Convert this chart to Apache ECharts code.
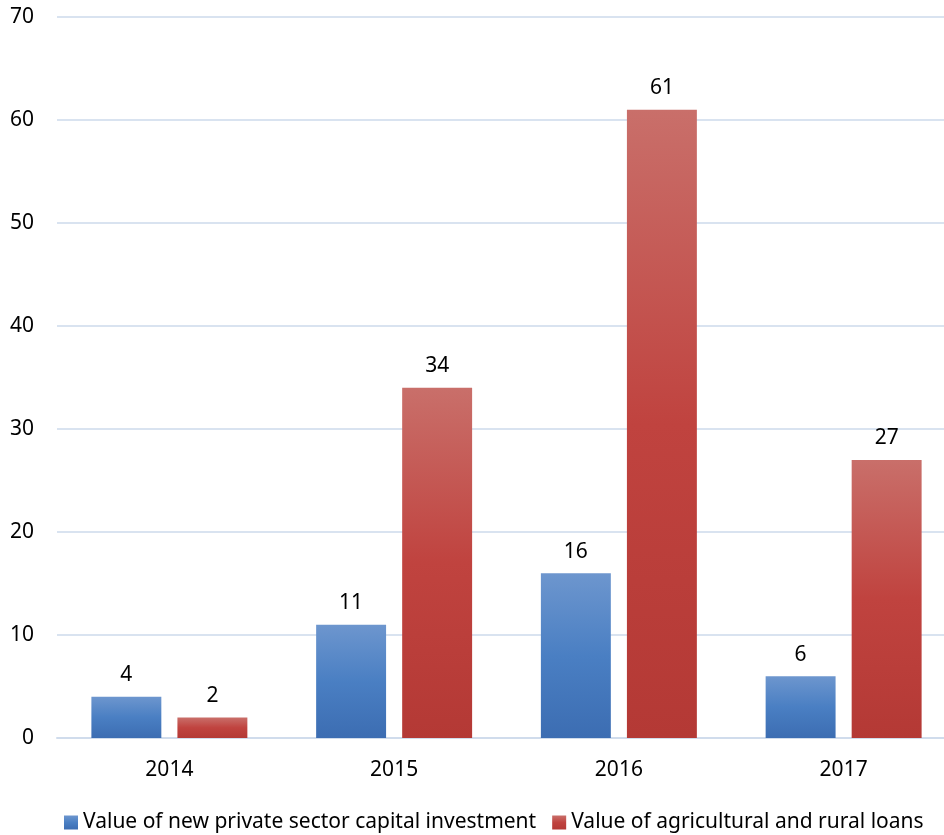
<!DOCTYPE html>
<html><head><meta charset="utf-8">
<script src="https://cdn.jsdelivr.net/npm/echarts@6/dist/echarts.min.js"></script>
<style>html,body{margin:0;padding:0;background:#fff}#c{width:944px;height:835px}</style>
</head><body><div id="c"></div>
<script>
const categories = ['2014', '2015', '2016', '2017'];
const privateInvestment = [4, 11, 16, 6];
const agriLoans = [2, 34, 61, 27];
const seriesNames = ['Value of new private sector capital investment', 'Value of agricultural and rural loans'];
const FONT = '"Noto Sans", sans-serif';

function grad(top, mid, bot) {
  return new echarts.graphic.LinearGradient(0, 0, 0, 1, [
    {offset: 0, color: top}, {offset: 0.5, color: mid}, {offset: 1, color: bot}
  ]);
}
const blue = grad('#6d96ce', '#4a7fc3', '#3c6db2');
const red = grad('#c96f6a', '#c0433f', '#b43935');

const chart = echarts.init(document.getElementById('c'));
const label = {show: true, position: 'top', distance: 11, color: '#000', fontSize: 21, fontFamily: FONT};
chart.setOption({
  animation: false,
  grid: {left: 57, width: 899, top: 17, bottom: 97, containLabel: false, outerBoundsMode: 'none'},
  legend: {
    bottom: -3, left: 59, itemWidth: 14, itemHeight: 14, itemGap: 16,
    textStyle: {fontSize: 21, fontFamily: FONT, color: '#000'},
    data: [
      {name: seriesNames[0], icon: 'rect', itemStyle: {color: blue}},
      {name: seriesNames[1], icon: 'rect', itemStyle: {color: red}}
    ]
  },
  xAxis: {
    type: 'category', data: categories,
    axisLine: {lineStyle: {color: '#d0dcec', width: 2}},
    axisTick: {show: false},
    axisLabel: {color: '#000', fontSize: 21, fontFamily: FONT, margin: 22}
  },
  yAxis: {
    type: 'value', min: 0, max: 70, interval: 10,
    axisLine: {show: false}, axisTick: {show: false},
    axisLabel: {color: '#000', fontSize: 21, fontFamily: FONT, margin: 23},
    splitLine: {lineStyle: {color: '#d9e3f0', width: 2}}
  },
  series: [
    {name: seriesNames[0], type: 'bar', data: privateInvestment, barGap: '23%', barCategoryGap: '30.6%',
     itemStyle: {color: blue}, label: label},
    {name: seriesNames[1], type: 'bar', data: agriLoans,
     itemStyle: {color: red}, label: label}
  ]
});
</script></body></html>
